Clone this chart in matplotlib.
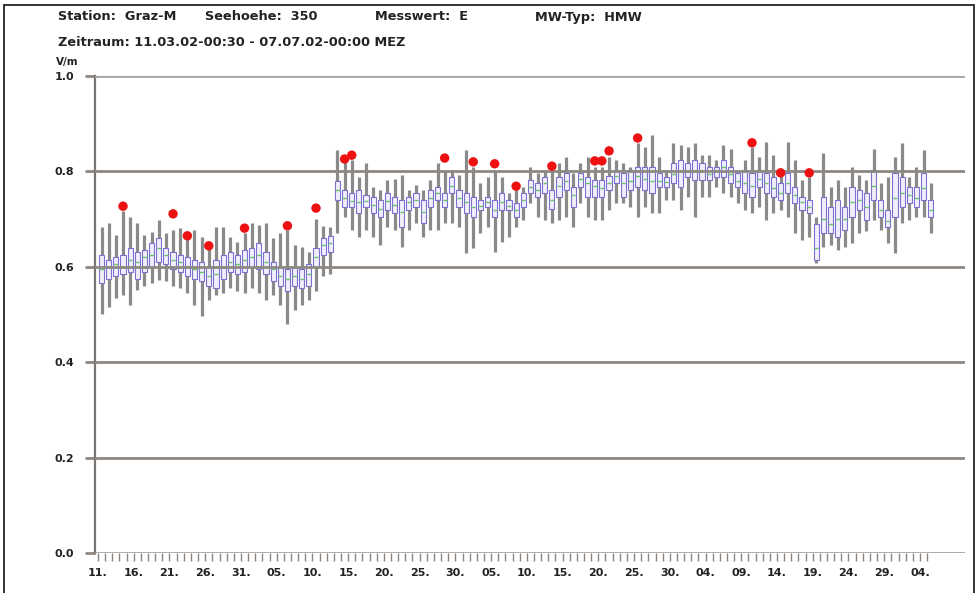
import matplotlib
matplotlib.use("Agg")
import matplotlib.pyplot as plt
from matplotlib.patches import Rectangle
import numpy as np

# ---- data (values in V/m, one entry per day starting 11.03.02) ----
w_hi = [0.684, 0.691, 0.667, 0.716, 0.705, 0.691, 0.667, 0.674, 0.698, 0.670,
        0.677, 0.681, 0.663, 0.677, 0.663, 0.646, 0.684, 0.684, 0.663, 0.653,
        0.670, 0.691, 0.688, 0.691, 0.660, 0.670, 0.677, 0.646, 0.642, 0.630,
        0.700, 0.686, 0.683, 0.845, 0.824, 0.824, 0.789, 0.817, 0.768, 0.761,
        0.782, 0.785, 0.792, 0.761, 0.771, 0.761, 0.782, 0.817, 0.800, 0.803,
        0.792, 0.845, 0.810, 0.775, 0.789, 0.800, 0.789, 0.754, 0.760, 0.768,
        0.810, 0.796, 0.803, 0.800, 0.817, 0.831, 0.796, 0.817, 0.831, 0.810,
        0.810, 0.830, 0.824, 0.817, 0.810, 0.860, 0.852, 0.876, 0.831, 0.803,
        0.859, 0.855, 0.852, 0.859, 0.834, 0.834, 0.824, 0.855, 0.848, 0.803,
        0.824, 0.852, 0.831, 0.862, 0.834, 0.800, 0.862, 0.824, 0.782, 0.789,
        0.705, 0.838, 0.768, 0.782, 0.768, 0.810, 0.792, 0.782, 0.848, 0.775,
        0.789, 0.831, 0.859, 0.789, 0.810, 0.845, 0.775]
q3 = [0.625, 0.615, 0.620, 0.625, 0.640, 0.630, 0.635, 0.650, 0.660, 0.640,
      0.630, 0.625, 0.620, 0.615, 0.610, 0.600, 0.615, 0.625, 0.630, 0.625,
      0.635, 0.640, 0.650, 0.630, 0.610, 0.600, 0.595, 0.600, 0.595, 0.605,
      0.640, 0.660, 0.665, 0.780, 0.761, 0.754, 0.761, 0.750, 0.747, 0.740,
      0.754, 0.747, 0.740, 0.747, 0.754, 0.740, 0.761, 0.768, 0.754, 0.788,
      0.761, 0.754, 0.747, 0.740, 0.747, 0.740, 0.754, 0.740, 0.733, 0.754,
      0.782, 0.775, 0.789, 0.761, 0.789, 0.796, 0.768, 0.796, 0.789, 0.782,
      0.782, 0.790, 0.803, 0.796, 0.803, 0.810, 0.810, 0.810, 0.796, 0.789,
      0.817, 0.824, 0.817, 0.824, 0.817, 0.810, 0.810, 0.824, 0.810, 0.796,
      0.803, 0.796, 0.803, 0.796, 0.789, 0.775, 0.796, 0.768, 0.747, 0.740,
      0.690, 0.747, 0.726, 0.740, 0.726, 0.768, 0.761, 0.754, 0.803, 0.740,
      0.719, 0.796, 0.789, 0.768, 0.768, 0.796, 0.740]
med = [0.595, 0.600, 0.605, 0.600, 0.615, 0.610, 0.620, 0.625, 0.640, 0.625,
       0.615, 0.610, 0.600, 0.595, 0.590, 0.580, 0.585, 0.600, 0.610, 0.605,
       0.615, 0.620, 0.625, 0.610, 0.595, 0.580, 0.575, 0.580, 0.575, 0.585,
       0.620, 0.645, 0.650, 0.760, 0.745, 0.738, 0.735, 0.738, 0.730, 0.722,
       0.738, 0.730, 0.715, 0.735, 0.740, 0.715, 0.745, 0.755, 0.740, 0.770,
       0.745, 0.735, 0.725, 0.728, 0.735, 0.720, 0.735, 0.728, 0.720, 0.740,
       0.768, 0.760, 0.775, 0.740, 0.770, 0.780, 0.750, 0.785, 0.775, 0.770,
       0.765, 0.775, 0.790, 0.775, 0.780, 0.790, 0.785, 0.780, 0.780, 0.778,
       0.795, 0.800, 0.800, 0.800, 0.800, 0.795, 0.800, 0.810, 0.795, 0.780,
       0.775, 0.770, 0.785, 0.775, 0.765, 0.755, 0.775, 0.750, 0.735, 0.725,
       0.640, 0.700, 0.690, 0.700, 0.700, 0.735, 0.740, 0.725, 0.770, 0.720,
       0.695, 0.745, 0.755, 0.750, 0.745, 0.765, 0.720]
q1 = [0.565, 0.575, 0.580, 0.585, 0.590, 0.575, 0.590, 0.600, 0.610, 0.605,
      0.595, 0.590, 0.580, 0.575, 0.570, 0.560, 0.555, 0.575, 0.590, 0.585,
      0.590, 0.600, 0.595, 0.585, 0.570, 0.560, 0.550, 0.560, 0.555, 0.560,
      0.600, 0.625, 0.630, 0.740, 0.726, 0.726, 0.712, 0.726, 0.712, 0.705,
      0.719, 0.712, 0.684, 0.719, 0.726, 0.691, 0.726, 0.740, 0.726, 0.755,
      0.726, 0.712, 0.705, 0.719, 0.726, 0.705, 0.719, 0.719, 0.705, 0.726,
      0.754, 0.747, 0.754, 0.722, 0.747, 0.761, 0.726, 0.768, 0.747, 0.747,
      0.747, 0.760, 0.775, 0.747, 0.761, 0.768, 0.761, 0.754, 0.768, 0.768,
      0.775, 0.768, 0.789, 0.782, 0.782, 0.782, 0.789, 0.789, 0.775, 0.768,
      0.754, 0.747, 0.768, 0.754, 0.747, 0.740, 0.754, 0.733, 0.719, 0.712,
      0.614, 0.670, 0.670, 0.663, 0.677, 0.705, 0.719, 0.698, 0.740, 0.705,
      0.684, 0.705, 0.726, 0.733, 0.726, 0.740, 0.705]
w_lo = [0.502, 0.516, 0.534, 0.541, 0.520, 0.551, 0.560, 0.565, 0.572, 0.570,
        0.560, 0.555, 0.545, 0.520, 0.497, 0.530, 0.540, 0.545, 0.555, 0.550,
        0.545, 0.555, 0.545, 0.530, 0.540, 0.520, 0.480, 0.510, 0.520, 0.530,
        0.550, 0.580, 0.585, 0.671, 0.705, 0.677, 0.663, 0.677, 0.663, 0.646,
        0.684, 0.677, 0.642, 0.677, 0.691, 0.663, 0.677, 0.677, 0.691, 0.691,
        0.684, 0.628, 0.639, 0.670, 0.684, 0.632, 0.653, 0.663, 0.684, 0.698,
        0.733, 0.705, 0.698, 0.691, 0.698, 0.705, 0.684, 0.733, 0.705, 0.698,
        0.698, 0.720, 0.733, 0.733, 0.726, 0.705, 0.726, 0.712, 0.712, 0.740,
        0.740, 0.719, 0.747, 0.705, 0.747, 0.747, 0.768, 0.754, 0.747, 0.733,
        0.719, 0.712, 0.726, 0.698, 0.712, 0.719, 0.705, 0.670, 0.656, 0.663,
        0.608, 0.642, 0.645, 0.635, 0.642, 0.649, 0.670, 0.675, 0.698, 0.677,
        0.649, 0.628, 0.691, 0.698, 0.705, 0.705, 0.670]

# days carrying a red marker and its value
peak_day = [3, 10, 12, 15, 20, 26, 30, 34, 35, 48, 52, 55, 58, 63, 69, 70, 71, 75, 91, 95, 99]
peak_val = [0.727, 0.711, 0.665, 0.644, 0.681, 0.686, 0.723, 0.826, 0.834, 0.828, 0.820,
            0.816, 0.769, 0.811, 0.822, 0.822, 0.843, 0.870, 0.860, 0.797, 0.797]

xtick_labels = ['11.', '16.', '21.', '26.', '31.', '05.', '10.', '15.', '20.', '25.',
                '30.', '05.', '10.', '15.', '20.', '25.', '30.', '04.', '09.', '14.',
                '19.', '24.', '29.', '04.']
ytick_vals = [0.0, 0.2, 0.4, 0.6, 0.8, 1.0]

header_items = [("Station:  Graz-M", 58), ("Seehoehe:  350", 205),
                ("Messwert:  E", 375), ("MW-Typ:  HMW", 535)]
period_text = "Zeitraum: 11.03.02-00:30 - 07.07.02-00:00 MEZ"
unit_text = "V/m"

# ---- figure ----
W, H = 978, 593
fig = plt.figure(figsize=(W / 100, H / 100), dpi=100)
ax = fig.add_axes([95 / W, 1 - 553 / H, (965 - 95) / W, (553 - 76) / H])

n = len(med)
x = np.arange(n) + 0.5

grid_c = '#8e8883'
ax.vlines(x, w_lo, w_hi, color='#8a8a8a', lw=2.3, zorder=1)
ax.bar(x, np.array(q3) - np.array(q1), bottom=q1, width=0.72,
       facecolor='#f1effb', edgecolor='#7b6fd0', lw=0.8, zorder=2)
ax.hlines(med, x - 0.3, x + 0.3, color='#6cbf6c', lw=1.0, zorder=2.5)
ax.scatter(np.array(peak_day) + 0.5, peak_val, s=46, color='#ee1111',
           edgecolors='none', zorder=5)

for v in ytick_vals:
    ax.axhline(v, color=grid_c if 0 < v < 1 else '#a9a39e', lw=2.0, zorder=3)

ax.set_ylim(0, 1.0)
ax.set_xlim(-0.42, 121.3)
ax.set_yticks(ytick_vals)
ax.set_yticklabels([f"{v:.1f}" for v in ytick_vals])
ax.set_xticks(np.arange(0, 5 * len(xtick_labels), 5))
ax.set_xticklabels(xtick_labels)
ax.set_xticks(np.arange(0, n), minor=True)

for s in ['top', 'right']:
    ax.spines[s].set_visible(False)
ax.spines['bottom'].set_visible(False)
ax.spines['left'].set_color('#7a7470')
ax.spines['left'].set_linewidth(1.6)

ax.tick_params(axis='y', length=7, width=2, color=grid_c, pad=8,
               labelsize=8, labelcolor='#222222')
ax.tick_params(axis='x', which='both', length=6, width=1, color='#8a8580',
               direction='out', pad=5, labelsize=8, labelcolor='#222222')
for lab in ax.get_xticklabels() + ax.get_yticklabels():
    lab.set_fontweight('bold')
    lab.set_family('DejaVu Sans')

for txt, px in header_items:
    fig.text(px / W, 1 - 17 / H, txt, fontsize=9.3, fontweight='bold',
             family='DejaVu Sans', va='center', ha='left', color='#222222')
fig.text(58 / W, 1 - 42 / H, period_text, fontsize=9.3, fontweight='bold',
         family='DejaVu Sans', va='center', ha='left', color='#222222')
fig.text(56 / W, 1 - 62 / H, unit_text, fontsize=7.5, fontweight='bold',
         family='DejaVu Sans', va='center', ha='left', color='#222222')

fig.patches.append(Rectangle((4 / W, -0.02), (974 - 4) / W, 1.02 - 5 / H,
                             transform=fig.transFigure, fill=False,
                             edgecolor='#111111', lw=1.2))

fig.savefig("out.png", dpi=100)
